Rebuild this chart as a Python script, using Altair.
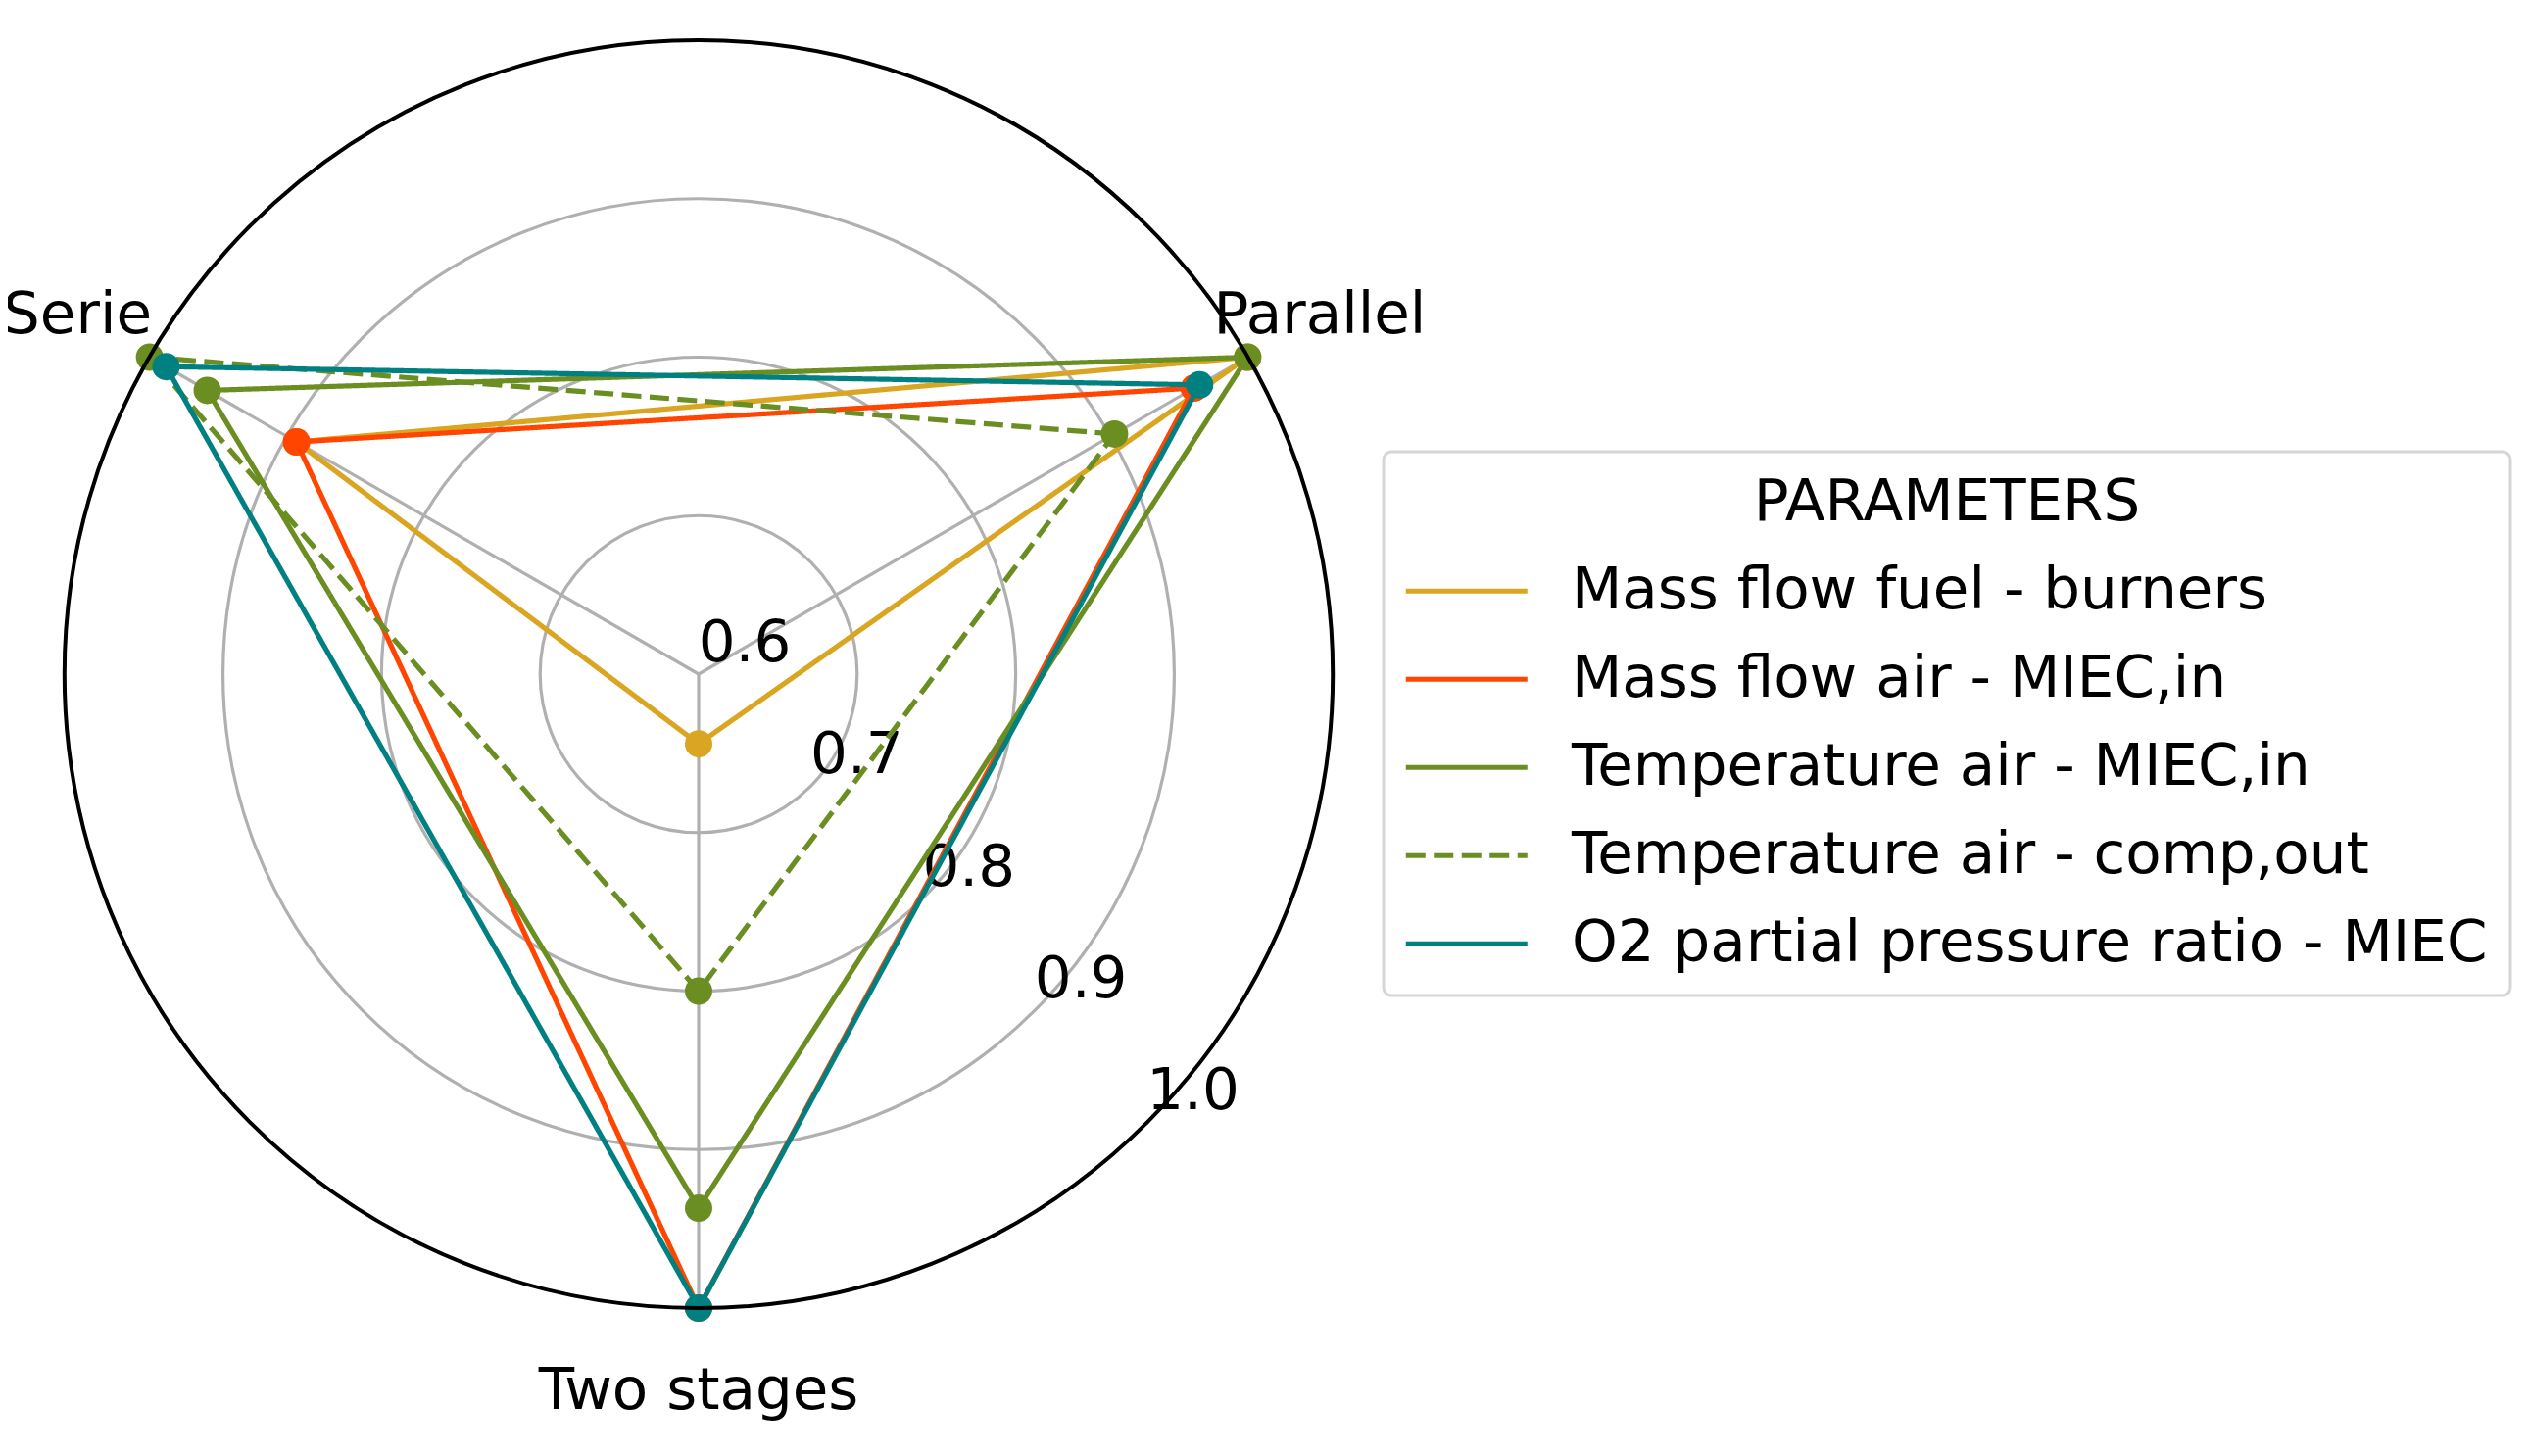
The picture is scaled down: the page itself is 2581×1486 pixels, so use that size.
import math
import altair as alt
import pandas as pd

# ---------------- data ----------------
categories = ["Parallel", "Serie", "Two stages"]
angles_deg = [30, 150, 270]

series_names = [
    "Mass flow fuel - burners",
    "Mass flow air - MIEC,in",
    "Temperature air - MIEC,in",
    "Temperature air - comp,out",
    "O2 partial pressure ratio - MIEC",
]
series_colors = ["#DAA520", "#FF4500", "#6B8E23", "#6B8E23", "#008080"]
series_dash = [[1, 0], [1, 0], [1, 0], [20, 8.5], [1, 0]]

mass_flow_fuel = [1.0, 0.893, 0.644]
mass_flow_air = [0.961, 0.893, 1.0]
temp_air_miec = [1.0, 0.958, 0.937]
temp_air_comp = [0.903, 1.0, 0.80]
o2_ratio = [0.965, 0.988, 1.0]
series_values = [mass_flow_fuel, mass_flow_air, temp_air_miec, temp_air_comp, o2_ratio]

ring_levels = [0.7, 0.8, 0.9]
outer_levels = [1.0]
tick_values = [0.6, 0.7, 0.8, 0.9, 1.0]

# ---------------- layout ----------------
RMIN, RMAX = 0.6, 1.0
R = 647            # pixel radius of the 1.0 circle
W, H = 2560, 1465  # view size
CX, CY = 705, 680  # center within view
LABEL_R = 732
FS = 59.5

rows = []
for name, vals in zip(series_names, series_values):
    for i, (cat, ang, v) in enumerate(zip(categories, angles_deg, vals)):
        rows.append({"series": name, "category": cat, "idx": i, "angle": ang, "value": v})
df = pd.DataFrame(rows)

xsc = alt.Scale(domain=[-CX, W - CX], nice=False, zero=False)
ysc = alt.Scale(domain=[CY - H, CY], nice=False, zero=False)
X = lambda f: alt.X(f, type="quantitative", scale=xsc, axis=None)
Y = lambda f: alt.Y(f, type="quantitative", scale=ysc, axis=None)

rexpr = f"(datum.value - {RMIN}) / ({RMAX} - {RMIN}) * {R}"

# grid rings
rings = alt.Chart(pd.DataFrame({"value": ring_levels})).transform_calculate(
    rp=rexpr, cx="0", cy="0"
).mark_arc(theta=0, theta2=2 * math.pi, filled=False, stroke="#b0b0b0", strokeWidth=3.2).encode(
    x=X("cx"), y=Y("cy"), radius=alt.Radius("rp:Q", scale=None, stack=None)
)

# spokes
spokes = alt.Chart(pd.DataFrame({"category": categories, "angle": angles_deg})).transform_calculate(
    cx="0", cy="0",
    ex=f"{R} * cos(datum.angle * PI / 180)",
    ey=f"{R} * sin(datum.angle * PI / 180)",
).mark_rule(color="#b0b0b0", strokeWidth=3.2).encode(
    x=X("cx"), y=Y("cy"), x2="ex:Q", y2="ey:Q"
)

# tick labels
ticks = alt.Chart(pd.DataFrame({"value": tick_values})).transform_calculate(
    tx=f"({rexpr}) * cos(-PI / 4)",
    ty=f"({rexpr}) * sin(-PI / 4)",
).mark_text(fontSize=FS, align="center", baseline="middle", dx=47, dy=-31, color="black").encode(
    x=X("tx"), y=Y("ty"), text=alt.Text("value:Q", format=".1f")
)

# category labels
cat_labels = alt.Chart(pd.DataFrame({"category": categories, "angle": angles_deg})).transform_calculate(
    lx=f"{LABEL_R} * cos(datum.angle * PI / 180)",
    ly=f"{LABEL_R} * sin(datum.angle * PI / 180)",
).mark_text(fontSize=FS, align="center", baseline="middle", color="black").encode(
    x=X("lx"), y=Y("ly"), text="category:N"
)

legend = alt.Legend(title="PARAMETERS")
color_enc = alt.Color("series:N", scale=alt.Scale(domain=series_names, range=series_colors), legend=legend)
dash_enc = alt.StrokeDash("series:N", scale=alt.Scale(domain=series_names, range=series_dash), legend=legend)
fill_enc = alt.Fill("series:N", scale=alt.Scale(domain=series_names, range=series_colors), legend=None)

base = alt.Chart(df).transform_calculate(
    px=f"({rexpr}) * cos(datum.angle * PI / 180)",
    py=f"({rexpr}) * sin(datum.angle * PI / 180)",
)

series_layers = []
for name in series_names:
    sub = base.transform_filter(alt.datum.series == name)
    line = sub.mark_line(interpolate="linear-closed", strokeWidth=5.2).encode(
        x=X("px"), y=Y("py"), color=color_enc, strokeDash=dash_enc, order="idx:Q"
    )
    pts = sub.mark_circle(size=784, opacity=1).encode(
        x=X("px"), y=Y("py"), fill=fill_enc
    )
    series_layers += [line, pts]

outer = alt.Chart(pd.DataFrame({"value": outer_levels})).transform_calculate(
    rp=rexpr, cx="0", cy="0"
).mark_arc(theta=0, theta2=2 * math.pi, filled=False, stroke="black", strokeWidth=4).encode(
    x=X("cx"), y=Y("cy"), radius=alt.Radius("rp:Q", scale=None, stack=None)
)

chart = alt.layer(rings, spokes, ticks, *series_layers, outer, cat_labels).properties(
    width=W, height=H, padding=0, autosize=alt.AutoSizeParams(type="none")
).configure(font="DejaVu Sans").configure_view(stroke=None).configure_legend(
    orient="none", legendX=1404, legendY=453,
    padding=23, strokeColor="#d6d6d6", strokeWidth=3, cornerRadius=8, fillColor="white",
    titleFontSize=FS, titleFontWeight="normal", titleColor="black", titleAnchor="middle",
    titlePadding=30, titleLimit=0,
    labelFontSize=FS, labelColor="black", labelLimit=0,
    symbolType="M -5 0 L 5 0", symbolSize=615, symbolStrokeWidth=5,
    symbolOffset=32, labelOffset=77.5, rowPadding=29,
)

chart.save("out.html", embed_options={"renderer": "svg", "actions": False})
